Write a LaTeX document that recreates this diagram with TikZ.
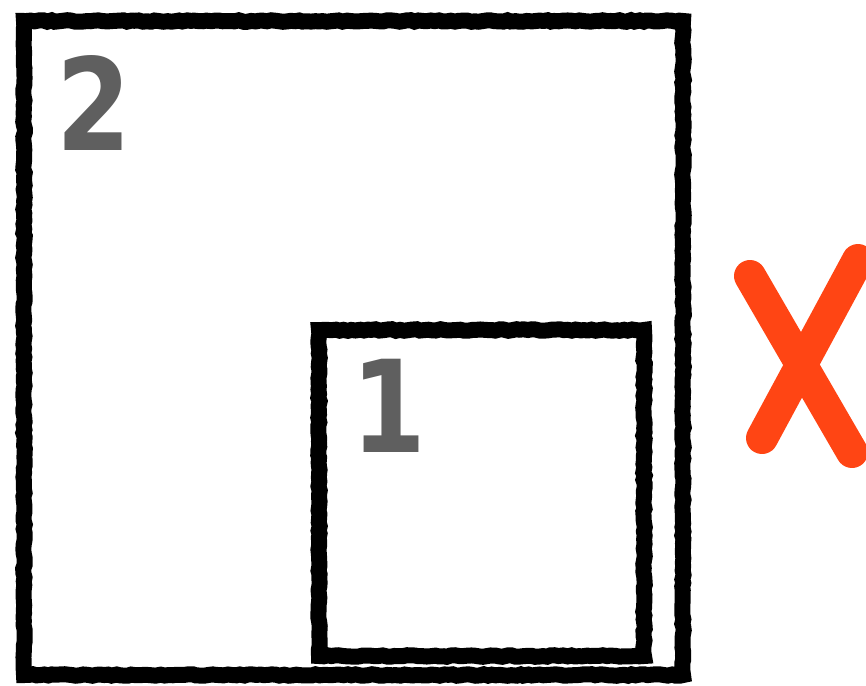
\documentclass[tikz,border=0pt]{standalone}
\usepackage{fontspec}
\setmainfont{DejaVu Sans}
\usetikzlibrary{decorations.pathmorphing}
\definecolor{chalk}{HTML}{000000}
\definecolor{digit}{HTML}{5F5F5F}
\definecolor{cross}{HTML}{FF4514}
\tikzset{
  chalkbox/.style={draw=chalk, line width=16pt, line join=miter,
    decorate, decoration={random steps, segment length=4pt, amplitude=0.8pt}},
  digitlabel/.style={text=digit, font=\fontsize{128}{128}\selectfont\bfseries, inner sep=0pt, xscale=0.84},
  crossstroke/.style={draw=cross, line width=32pt, line cap=round}
}
\begin{document}
\begin{tikzpicture}[x=1pt,y=-1pt]
\useasboundingbox (0,0) rectangle (866,685);
\clip (0,0) rectangle (866,685);
\draw[chalkbox] (24,21) rectangle (683,675);
\node[chalkbox, minimum width=325pt, minimum height=326pt, anchor=north west, inner sep=0pt] (inner) at (311,322) {};
\node[digitlabel] (two) at (94,103) {2};
\node[digitlabel] (one) at (389,406) {1};
\coordinate (xa) at (750,276);
\coordinate (xb) at (852,452);
\coordinate (xc) at (858,260);
\coordinate (xd) at (762,438);
\draw[crossstroke] (xa) -- (xb);
\draw[crossstroke] (xc) -- (xd);
\end{tikzpicture}
\end{document}
